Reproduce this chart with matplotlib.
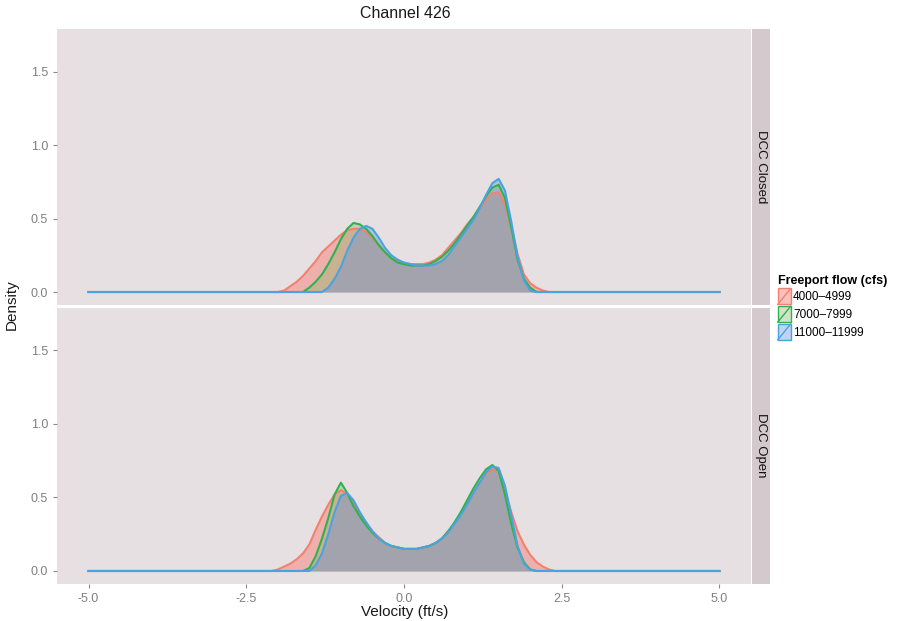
import numpy as np
import matplotlib
matplotlib.use("Agg")
import matplotlib.pyplot as plt
from matplotlib.patches import Patch, Rectangle
from matplotlib.lines import Line2D
from matplotlib.legend_handler import HandlerBase

plt.rcParams['font.family'] = ['Liberation Sans', 'DejaVu Sans']

# --- data ---
velocidade = np.round(np.arange(-2.4, 2.45, 0.1), 1)   # ft/s, 49 points
x_min, x_max = -5.0, 5.0                                # density evaluated over this range

fechado_4000 = [0, 0, 0, 0, 0,
                0.01, 0.04, 0.07, 0.11, 0.16, 0.21, 0.27, 0.31, 0.35, 0.39, 0.42, 0.43, 0.43, 0.41, 0.37, 0.32, 0.27, 0.23, 0.21,
                0.20, 0.19, 0.19, 0.19, 0.20, 0.22, 0.25, 0.30, 0.35, 0.40, 0.46, 0.51, 0.57, 0.63, 0.67, 0.68, 0.60, 0.44, 0.26,
                0.12, 0.06, 0.03, 0.01, 0, 0]
fechado_7000 = [0, 0, 0, 0, 0, 0, 0, 0, 0,
                0.03, 0.07, 0.12, 0.19, 0.27, 0.36, 0.43, 0.47, 0.46, 0.43, 0.38, 0.32, 0.27, 0.23, 0.20,
                0.19, 0.18, 0.18, 0.18, 0.19, 0.21, 0.24, 0.28, 0.33, 0.39, 0.45, 0.51, 0.58, 0.65, 0.71, 0.73, 0.64, 0.44, 0.22,
                0.09, 0.03, 0, 0, 0, 0]
fechado_11000 = [0, 0, 0, 0, 0, 0, 0, 0, 0, 0, 0, 0,
                 0.03, 0.09, 0.17, 0.28, 0.37, 0.43, 0.45, 0.43, 0.37, 0.30, 0.25, 0.22,
                 0.20, 0.19, 0.18, 0.18, 0.18, 0.19, 0.21, 0.25, 0.31, 0.37, 0.43, 0.49, 0.57, 0.66, 0.74, 0.77, 0.69, 0.48, 0.24,
                 0.08, 0.01, 0, 0, 0, 0]

aberto_4000 = [0, 0, 0, 0,
               0.01, 0.03, 0.05, 0.08, 0.12, 0.18, 0.28, 0.37, 0.45, 0.52, 0.55, 0.52, 0.46, 0.39, 0.33, 0.27, 0.23, 0.19, 0.17, 0.16,
               0.15, 0.15, 0.15, 0.16, 0.17, 0.19, 0.22, 0.27, 0.32, 0.39, 0.46, 0.53, 0.60, 0.66, 0.69, 0.67, 0.55, 0.40, 0.27,
               0.18, 0.11, 0.06, 0.03, 0.01, 0]
aberto_7000 = [0, 0, 0, 0, 0, 0, 0, 0, 0,
               0.02, 0.10, 0.22, 0.36, 0.52, 0.60, 0.53, 0.44, 0.37, 0.31, 0.26, 0.22, 0.19, 0.17, 0.16,
               0.15, 0.15, 0.15, 0.16, 0.17, 0.19, 0.22, 0.27, 0.33, 0.40, 0.48, 0.56, 0.63, 0.69, 0.72, 0.68, 0.52, 0.32, 0.16,
               0.06, 0.01, 0, 0, 0, 0]
aberto_11000 = [0, 0, 0, 0, 0, 0, 0, 0, 0, 0,
                0.04, 0.12, 0.25, 0.40, 0.51, 0.53, 0.48, 0.40, 0.33, 0.27, 0.22, 0.19, 0.17, 0.16,
                0.15, 0.15, 0.15, 0.16, 0.17, 0.19, 0.22, 0.26, 0.32, 0.38, 0.45, 0.53, 0.60, 0.67, 0.71, 0.70, 0.58, 0.38, 0.17,
                0.05, 0.01, 0, 0, 0, 0]

faixas = ['4000\u20134999', '7000\u20137999', '11000\u201311999']
paineis = ['DCC Closed', 'DCC Open']
series = {
    'DCC Closed': [fechado_4000, fechado_7000, fechado_11000],
    'DCC Open': [aberto_4000, aberto_7000, aberto_11000],
}
cores_linha = ['#F4806F', '#2DB34E', '#4AA3E0']
cores_fundo = ['#F8766D', '#8DB36A', '#6B8FD8']
alfas = [0.45, 0.38, 0.4]

# --- figure layout (ggplot-like facets) ---
fig = plt.figure(figsize=(9.24, 6.21), dpi=100)
fig.patch.set_facecolor('white')

fundo = '#e6e0e2'
fundo_faixa = '#d4c9cc'
ax_left, ax_w = 57 / 924, 694 / 924
posicoes = [(1 - 304.5 / 621, 275.5 / 621), (1 - 583.5 / 621, 276 / 621)]

x_full = np.concatenate([[x_min], velocidade, [x_max]])

eixos = []
for painel, (yb, h) in zip(paineis, posicoes):
    ax = fig.add_axes([ax_left, yb, ax_w, h])
    ax.set_facecolor(fundo)
    for valores, cl, cf, a in zip(series[painel], cores_linha, cores_fundo, alfas):
        y_full = np.concatenate([[0], valores, [0]])
        ax.fill_between(x_full, 0, y_full, color=cf, alpha=a, lw=0)
        ax.plot(x_full, y_full, color=cl, lw=1.5)
    ax.set_xlim(-5.5, 5.5)
    ax.set_ylim(-0.085, 1.79)
    ax.set_yticks([0.0, 0.5, 1.0, 1.5])
    ax.set_yticklabels(['0.0', '0.5', '1.0', '1.5'])
    ax.set_xticks([-5.0, -2.5, 0.0, 2.5, 5.0])
    for s in ax.spines.values():
        s.set_visible(False)
    ax.tick_params(colors='#8a8a8a', labelcolor='#808080', labelsize=9, length=3, width=0.8)

    # strip at the right
    sx = fig.add_axes([752 / 924, yb, 18 / 924, h])
    sx.set_facecolor(fundo_faixa)
    sx.set_xticks([])
    sx.set_yticks([])
    for s in sx.spines.values():
        s.set_visible(False)
    sx.text(0.5, 0.5, painel, rotation=-90, ha='center', va='center',
            fontsize=9.5, color='#111111', transform=sx.transAxes)
    eixos.append(ax)

eixos[0].tick_params(labelbottom=False, bottom=False)
eixos[1].set_xticklabels(['-5.0', '-2.5', '0.0', '2.5', '5.0'])

fig.text(405 / 924, 1 - 14 / 621, 'Channel 426', ha='center', va='center', fontsize=11.5, color='#1a1a1a')
fig.text(405 / 924, 1 - 612 / 621, 'Velocity (ft/s)', ha='center', va='center', fontsize=11, color='#1a1a1a')
fig.text(12 / 924, 1 - 305 / 621, 'Density', ha='center', va='center', rotation=90, fontsize=11, color='#1a1a1a')


# legend keys like ggplot's density keys (box + diagonal)
class ChaveDensidade(HandlerBase):
    def create_artists(self, legend, orig_handle, xdescent, ydescent, width, height, fontsize, trans):
        cor = orig_handle.get_edgecolor()
        caixa = Rectangle((-xdescent, -ydescent), width, height, facecolor=orig_handle.get_facecolor(),
                          edgecolor=cor, lw=1.0, transform=trans)
        diag = Line2D([-xdescent, -xdescent + width], [-ydescent, -ydescent + height], color=cor, lw=1.0,
                      transform=trans)
        return [caixa, diag]


alcas = [Patch(facecolor=matplotlib.colors.to_rgba(cf, a), edgecolor=cl)
         for cl, cf, a in zip(cores_linha, cores_fundo, alfas)]
leg = fig.legend(alcas, faixas, title='Freeport flow (cfs)', loc='upper left',
                 bbox_to_anchor=(773 / 924, 1 - 270 / 621), frameon=False, fontsize=8.5,
                 title_fontproperties={'weight': 'bold', 'size': 9},
                 handler_map={Patch: ChaveDensidade()}, handlelength=1.1, handleheight=1.7,
                 handletextpad=0.2, labelspacing=0.15, borderaxespad=0)
leg._legend_box.align = 'left'

fig.savefig('out.png', dpi=100)
